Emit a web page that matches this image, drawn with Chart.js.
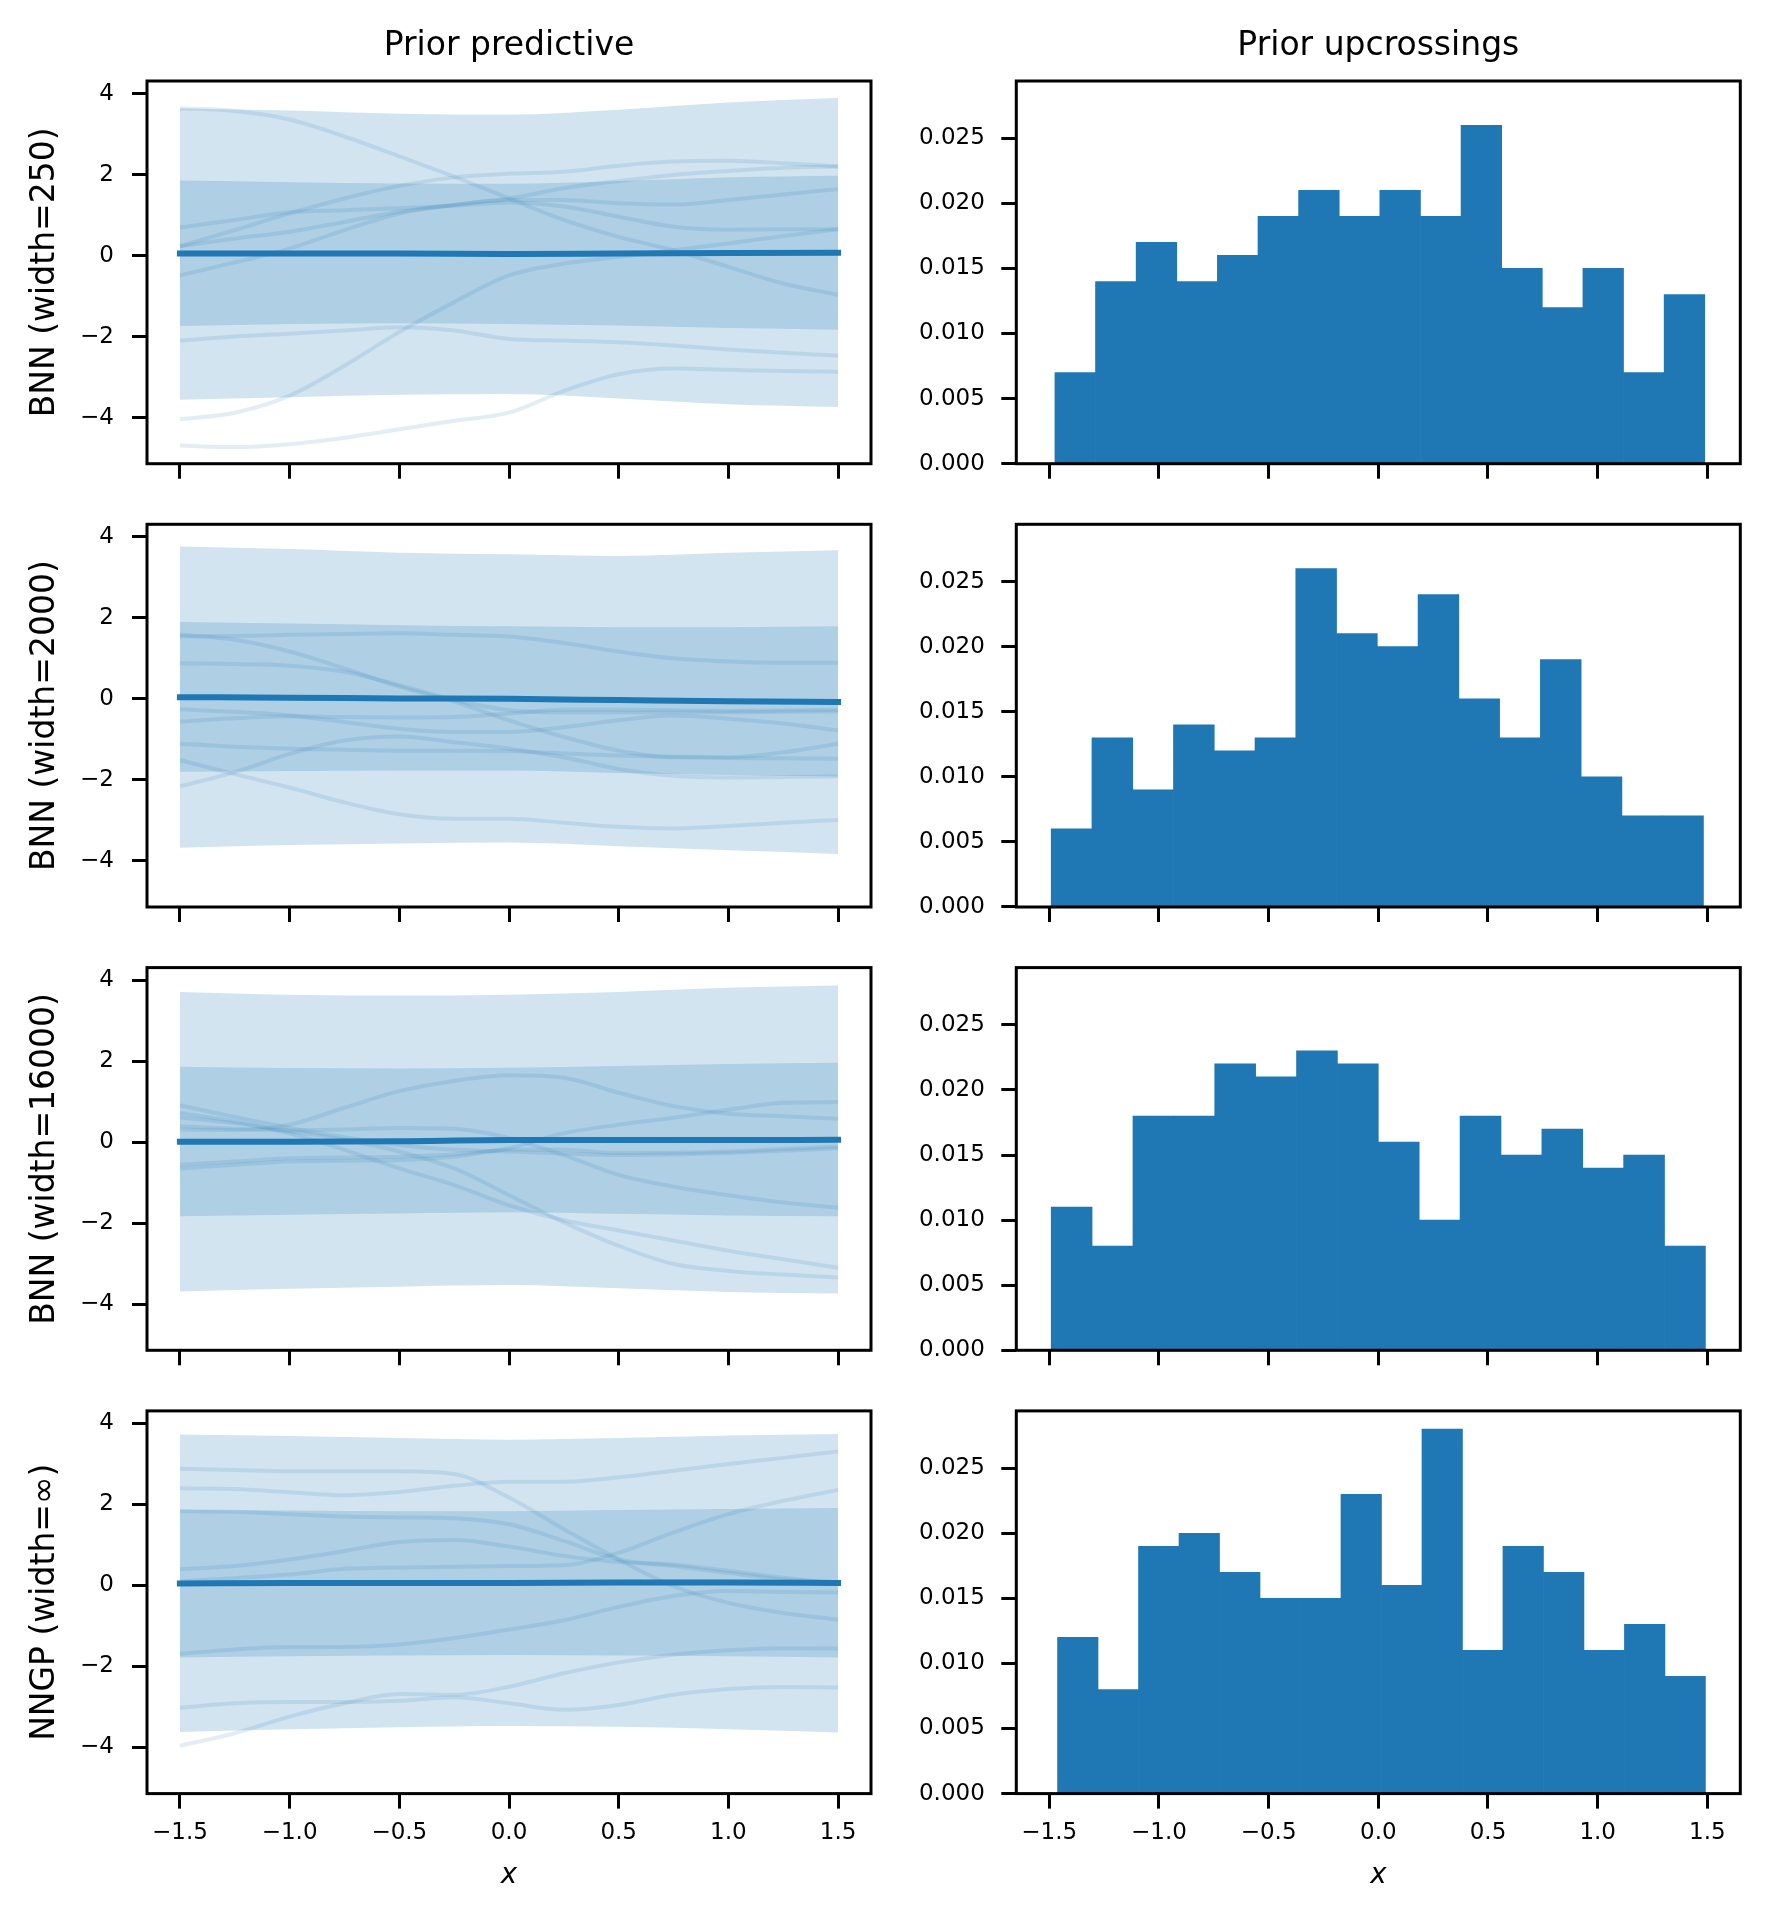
<!DOCTYPE html>
<html>
<head>
<meta charset="utf-8">
<script src="https://cdn.jsdelivr.net/npm/chart.js@4.4.1/dist/chart.umd.min.js"></script>
<style>
  html, body { margin: 0; padding: 0; background: #fff; }
  #page { position: relative; width: 1770px; height: 1920px; overflow: hidden; background: #fff; }
  #page canvas { position: absolute; }
</style>
</head>
<body>
<div id="page"></div>
<script>
/* Data */
const colTitles = ['Prior predictive', 'Prior upcrossings'];
const rowLabels = ['BNN (width=250)', 'BNN (width=2000)', 'BNN (width=16000)', 'NNGP (width=\u221e)'];

const xGrid = [-1.5, -1.25, -1.0, -0.75, -0.5, -0.25, 0, 0.25, 0.5, 0.75, 1.0, 1.25, 1.5];
const bandX = [-1.5, -1.0, -0.5, 0, 0.5, 1.0, 1.5];

const xTicks = [-1.5, -1.0, -0.5, 0, 0.5, 1.0, 1.5];
const xTickLabels = ['\u22121.5', '\u22121.0', '\u22120.5', '0.0', '0.5', '1.0', '1.5'];
const fTicks = [-4, -2, 0, 2, 4];
const fTickLabels = ['\u22124', '\u22122', '0', '2', '4'];
const hTicks = [0, 0.005, 0.010, 0.015, 0.020, 0.025];
const hTickLabels = ['0.000', '0.005', '0.010', '0.015', '0.020', '0.025'];

// width=250
const w250_mean = [0.05, 0.05, 0.05, 0.04, 0.05, 0.06, 0.07];
const w250_hi2 = [3.64, 3.58, 3.50, 3.48, 3.60, 3.78, 3.89];
const w250_lo2 = [-3.56, -3.50, -3.44, -3.42, -3.53, -3.67, -3.74];
const w250_hi1 = [1.85, 1.81, 1.78, 1.77, 1.84, 1.93, 1.97];
const w250_lo1 = [-1.74, -1.69, -1.67, -1.69, -1.73, -1.79, -1.83];
const w250_samples = [
  [3.64, 3.57, 3.36, 2.94, 2.45, 1.95, 1.41, 0.88, 0.46, 0.13, -0.28, -0.69, -0.97],
  [0.69, 0.88, 1.07, 1.12, 1.17, 1.23, 1.31, 1.21, 0.96, 0.71, 0.64, 0.65, 0.65],
  [0.23, 0.63, 1.04, 1.41, 1.72, 1.93, 2.02, 2.07, 2.22, 2.32, 2.34, 2.28, 2.20],
  [0.23, 0.42, 0.59, 0.83, 1.08, 1.25, 1.37, 1.37, 1.29, 1.26, 1.37, 1.51, 1.64],
  [-0.49, -0.17, 0.17, 0.63, 1.04, 1.25, 1.41, 1.66, 1.84, 1.99, 2.09, 2.17, 2.20],
  [-2.10, -2.00, -1.93, -1.85, -1.77, -1.85, -2.06, -2.10, -2.14, -2.22, -2.32, -2.40, -2.47],
  [-4.04, -3.88, -3.46, -2.72, -1.89, -1.15, -0.49, -0.20, -0.03, 0.13, 0.30, 0.48, 0.65],
  [-4.69, -4.73, -4.66, -4.50, -4.29, -4.08, -3.88, -3.34, -2.93, -2.79, -2.82, -2.85, -2.87]
];
const w250_hist = [0.007, 0.014, 0.017, 0.014, 0.016, 0.019, 0.021, 0.019, 0.021, 0.019, 0.026, 0.015, 0.012, 0.015, 0.007, 0.013];
const w250_range = [-1.474, 1.488];

// width=2000
const w2000_mean = [0.04, 0.03, 0.01, 0.00, -0.03, -0.06, -0.08];
const w2000_hi2 = [3.76, 3.70, 3.61, 3.57, 3.53, 3.61, 3.67];
const w2000_lo2 = [-3.68, -3.61, -3.57, -3.55, -3.64, -3.74, -3.83];
const w2000_hi1 = [1.90, 1.86, 1.82, 1.79, 1.77, 1.77, 1.79];
const w2000_lo1 = [-1.80, -1.78, -1.77, -1.77, -1.83, -1.88, -1.92];
const w2000_samples = [
  [1.54, 1.55, 1.58, 1.60, 1.62, 1.58, 1.54, 1.38, 1.17, 1.00, 0.92, 0.89, 0.89],
  [1.58, 1.46, 1.17, 0.75, 0.30, -0.07, -0.53, -0.94, -1.28, -1.44, -1.44, -1.32, -1.11],
  [0.88, 0.86, 0.82, 0.67, 0.34, -0.03, -0.28, -0.33, -0.33, -0.33, -0.33, -0.32, -0.31],
  [-0.26, -0.32, -0.41, -0.57, -0.74, -0.82, -0.82, -0.70, -0.53, -0.41, -0.49, -0.61, -0.78],
  [-0.56, -0.48, -0.43, -0.45, -0.46, -0.45, -0.36, -0.27, -0.27, -0.28, -0.30, -0.29, -0.27],
  [-1.11, -1.18, -1.23, -1.26, -1.28, -1.28, -1.29, -1.35, -1.40, -1.43, -1.46, -1.47, -1.48],
  [-1.51, -1.86, -2.19, -2.56, -2.85, -2.96, -2.96, -3.06, -3.16, -3.20, -3.14, -3.06, -2.99],
  [-2.16, -1.81, -1.36, -1.03, -0.93, -1.07, -1.23, -1.44, -1.73, -1.90, -1.94, -1.93, -1.92]
];
const w2000_hist = [0.006, 0.013, 0.009, 0.014, 0.012, 0.013, 0.026, 0.021, 0.020, 0.024, 0.016, 0.013, 0.019, 0.010, 0.007, 0.007];
const w2000_range = [-1.491, 1.482];

// width=16000
const w16000_mean = [0.01, 0.01, 0.02, 0.05, 0.05, 0.05, 0.06];
const w16000_hi2 = [3.71, 3.64, 3.62, 3.64, 3.71, 3.81, 3.87];
const w16000_lo2 = [-3.69, -3.62, -3.57, -3.53, -3.61, -3.70, -3.74];
const w16000_hi1 = [1.86, 1.83, 1.82, 1.84, 1.88, 1.93, 1.96];
const w16000_lo1 = [-1.83, -1.79, -1.76, -1.73, -1.77, -1.81, -1.83];
const w16000_samples = [
  [0.31, 0.30, 0.43, 0.85, 1.26, 1.51, 1.65, 1.59, 1.22, 0.89, 0.70, 0.64, 0.58],
  [0.91, 0.62, 0.35, 0.12, -0.07, -0.19, -0.23, -0.28, -0.32, -0.30, -0.27, -0.21, -0.15],
  [0.72, 0.51, 0.22, -0.19, -0.65, -1.06, -1.56, -1.93, -2.18, -2.43, -2.68, -2.89, -3.10],
  [0.61, 0.47, 0.27, 0.06, -0.23, -0.65, -1.31, -1.98, -2.56, -3.01, -3.18, -3.27, -3.34],
  [0.39, 0.33, 0.29, 0.31, 0.35, 0.33, 0.10, -0.32, -0.81, -1.10, -1.31, -1.49, -1.62],
  [-0.56, -0.48, -0.40, -0.38, -0.36, -0.30, -0.15, 0.22, 0.43, 0.60, 0.80, 0.97, 0.99],
  [-0.65, -0.56, -0.48, -0.46, -0.44, -0.36, -0.19, -0.19, -0.27, -0.26, -0.23, -0.17, -0.11]
];
const w16000_hist = [0.011, 0.008, 0.018, 0.018, 0.022, 0.021, 0.023, 0.022, 0.016, 0.010, 0.018, 0.015, 0.017, 0.014, 0.015, 0.008];
const w16000_range = [-1.491, 1.491];

// NNGP
const nngp_mean = [0.05, 0.06, 0.06, 0.06, 0.07, 0.07, 0.06];
const nngp_hi2 = [3.73, 3.69, 3.64, 3.60, 3.64, 3.70, 3.74];
const nngp_lo2 = [-3.62, -3.55, -3.50, -3.47, -3.49, -3.55, -3.63];
const nngp_hi1 = [1.87, 1.85, 1.83, 1.83, 1.86, 1.89, 1.91];
const nngp_lo1 = [-1.78, -1.75, -1.73, -1.72, -1.73, -1.75, -1.78];
const nngp_samples = [
  [2.88, 2.85, 2.82, 2.82, 2.82, 2.75, 2.17, 1.39, 0.64, -0.02, -0.43, -0.68, -0.84],
  [2.40, 2.38, 2.30, 2.23, 2.31, 2.46, 2.56, 2.56, 2.67, 2.83, 3.00, 3.15, 3.31],
  [1.84, 1.82, 1.76, 1.70, 1.68, 1.66, 1.51, 1.10, 0.64, 0.48, 0.31, 0.15, 0.08],
  [0.40, 0.48, 0.64, 0.85, 1.07, 1.12, 0.96, 0.73, 0.58, 0.52, 0.36, 0.19, 0.05],
  [0.10, 0.18, 0.27, 0.41, 0.44, 0.46, 0.48, 0.50, 0.81, 1.31, 1.76, 2.09, 2.36],
  [-1.69, -1.58, -1.52, -1.52, -1.46, -1.30, -1.09, -0.86, -0.53, -0.26, -0.14, -0.16, -0.17],
  [-3.96, -3.65, -3.24, -2.91, -2.68, -2.70, -2.50, -2.17, -1.90, -1.71, -1.60, -1.55, -1.56],
  [-3.02, -2.91, -2.88, -2.88, -2.85, -2.76, -2.91, -3.07, -2.95, -2.70, -2.56, -2.51, -2.52]
];
const nngp_hist = [0.012, 0.008, 0.019, 0.020, 0.017, 0.015, 0.015, 0.023, 0.016, 0.028, 0.011, 0.019, 0.017, 0.011, 0.013, 0.009];
const nngp_range = [-1.462, 1.491];

const rows = [
  {mean: w250_mean, hi2: w250_hi2, lo2: w250_lo2, hi1: w250_hi1, lo1: w250_lo1, samples: w250_samples, hist: w250_hist, range: w250_range},
  {mean: w2000_mean, hi2: w2000_hi2, lo2: w2000_lo2, hi1: w2000_hi1, lo1: w2000_lo1, samples: w2000_samples, hist: w2000_hist, range: w2000_range},
  {mean: w16000_mean, hi2: w16000_hi2, lo2: w16000_lo2, hi1: w16000_hi1, lo1: w16000_lo1, samples: w16000_samples, hist: w16000_hist, range: w16000_range},
  {mean: nngp_mean, hi2: nngp_hi2, lo2: nngp_lo2, hi1: nngp_hi1, lo1: nngp_lo1, samples: nngp_samples, hist: nngp_hist, range: nngp_range}
];

/* Layout (pixels) */
const GEO = {
  colLeft: [147, 1016.3],
  colRight: [871, 1740.3],
  canvasX: [0, 885],
  canvasW: [885, 885],
  rowTop: [81, 524.3, 967.6, 1410.9],
  plotH: 382.7,
  gap: 40
};
const BLUE = '#1f77b4';
const TICK = 23;

Chart.defaults.font.family = "'DejaVu Sans', sans-serif";
Chart.defaults.color = '#000';

// full box round each axes, like matplotlib spines
const frame = {
  id: 'frame',
  afterDatasetsDraw(chart) {
    const a = chart.chartArea, ctx = chart.ctx;
    ctx.save();
    ctx.lineWidth = 3;
    ctx.strokeStyle = '#000';
    ctx.strokeRect(a.left, a.top, a.right - a.left, a.bottom - a.top);
    ctx.restore();
  }
};

function pts(xs, ys) {
  return xs.map((x, i) => ({x: x, y: ys[i]}));
}

function tickGrid() {
  return {display: true, drawOnChartArea: false, drawTicks: true, tickLength: 15,
          tickWidth: 3, tickColor: '#000', offset: false};
}

function xScale(r) {
  const last = r === 3;
  return {
    type: 'linear', min: -1.65, max: 1.65, offset: false,
    afterBuildTicks: s => { s.ticks = xTicks.map(v => ({value: v})); },
    afterFit: s => { s.height = last ? 110 : GEO.gap; },
    grid: tickGrid(),
    border: {display: false},
    ticks: {display: last, autoSkip: false, maxRotation: 0, minRotation: 0, padding: 11,
            font: {size: TICK}, callback: (v, i) => xTickLabels[i]},
    title: {display: last, text: 'x', font: {size: 27.5, style: 'italic'},
            padding: {top: 0, bottom: 11.5}}
  };
}

function topScale(c) {
  return {
    axis: 'x', type: 'linear', position: 'top', min: -1.65, max: 1.65,
    afterFit: s => { s.height = GEO.rowTop[0]; },
    grid: {display: false}, border: {display: false}, ticks: {display: false},
    title: {display: true, text: colTitles[c], font: {size: 33}, padding: {top: 27, bottom: 0}}
  };
}

function makePanel(r, c) {
  const cv = document.createElement('canvas');
  const canvasTop = r === 0 ? 0 : Math.floor(GEO.rowTop[r]) - GEO.gap;
  const padTop = r === 0 ? 0 : GEO.rowTop[r] - canvasTop;
  const xAxisH = r === 3 ? 110 : GEO.gap;
  const need = GEO.rowTop[r] - canvasTop + GEO.plotH + xAxisH;
  const h = Math.ceil(need);
  const w = GEO.canvasW[c];
  cv.width = w;
  cv.height = h;
  cv.style.left = GEO.canvasX[c] + 'px';
  cv.style.top = canvasTop + 'px';
  document.getElementById('page').appendChild(cv);

  const yW = GEO.colLeft[c] - GEO.canvasX[c];
  const padRight = w - (GEO.colRight[c] - GEO.canvasX[c]);
  const row = rows[r];

  const scales = {x: xScale(r)};
  if (r === 0) scales.xt = topScale(c);

  let type, datasets;
  if (c === 0) {
    type = 'line';
    const band = 'rgba(31,119,180,0.2)';
    datasets = [
      {data: pts(bandX, row.mean), borderColor: BLUE, borderWidth: 6, borderCapStyle: 'square'}
    ].concat(row.samples.map(s => ({
      data: pts(xGrid, s), borderColor: 'rgba(31,119,180,0.13)', borderWidth: 4
    }))).concat([
      {data: pts(bandX, row.hi1), fill: '+1', backgroundColor: band, borderWidth: 0, borderColor: 'rgba(0,0,0,0)'},
      {data: pts(bandX, row.lo1), fill: false, borderWidth: 0, borderColor: 'rgba(0,0,0,0)'},
      {data: pts(bandX, row.hi2), fill: '+1', backgroundColor: band, borderWidth: 0, borderColor: 'rgba(0,0,0,0)'},
      {data: pts(bandX, row.lo2), fill: false, borderWidth: 0, borderColor: 'rgba(0,0,0,0)'}
    ]);
    datasets.forEach(d => { d.pointRadius = 0; d.cubicInterpolationMode = 'monotone'; });
    scales.y = {
      type: 'linear', min: -5.14, max: 4.31,
      afterBuildTicks: s => { s.ticks = fTicks.map(v => ({value: v})); },
      afterFit: s => { s.width = yW; },
      grid: tickGrid(), border: {display: false},
      ticks: {padding: 18, font: {size: TICK}, callback: (v, i) => fTickLabels[i]},
      title: {display: true, text: rowLabels[r], font: {size: 33}, padding: {top: 25.5, bottom: 0}}
    };
  } else {
    type = 'bar';
    const n = row.hist.length;
    const bw = (row.range[1] - row.range[0]) / n;
    datasets = [{
      data: row.hist.map((v, i) => ({x: row.range[0] + (i + 0.5) * bw, y: v})),
      backgroundColor: BLUE, borderWidth: 0, barPercentage: 1, categoryPercentage: 1
    }];
    scales.y = {
      type: 'linear', min: 0, max: 0.0294,
      afterBuildTicks: s => { s.ticks = hTicks.map(v => ({value: v})); },
      afterFit: s => { s.width = yW; },
      grid: tickGrid(), border: {display: false},
      ticks: {padding: 16.5, font: {size: TICK}, callback: (v, i) => hTickLabels[i]}
    };
  }

  return new Chart(cv, {
    type: type,
    data: {datasets: datasets},
    options: {
      responsive: false,
      animation: false,
      events: [],
      layout: {padding: {left: 0, right: padRight, top: padTop, bottom: h - need}},
      plugins: {legend: {display: false}, tooltip: {enabled: false}},
      scales: scales
    },
    plugins: [frame]
  });
}

for (let r = 0; r < 4; r++) {
  for (let c = 0; c < 2; c++) {
    makePanel(r, c);
  }
}
</script>
</body>
</html>
